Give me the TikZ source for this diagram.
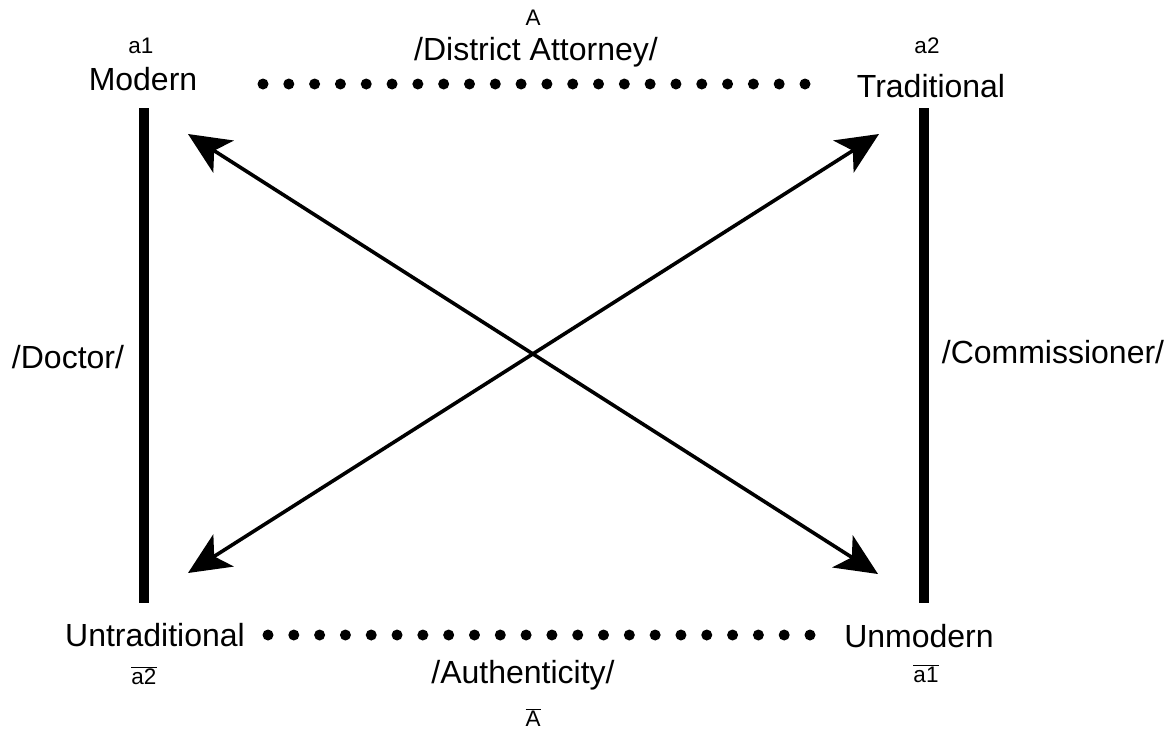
\documentclass[tikz,border=0pt]{standalone}
\usepackage{fontspec}
\setmainfont{Liberation Sans}
\usetikzlibrary{arrows.meta}
\begin{document}
\begin{tikzpicture}[x=1pt,y=-1pt,
  big/.style={font=\fontsize{32}{36}\selectfont, anchor=base, inner sep=0pt},
  small/.style={font=\fontsize{22.5}{26}\selectfont, anchor=base, inner sep=0pt},
  bar/.style={line width=9.5pt},
  dotline/.style={line width=11pt, line cap=round, dash pattern=on 0pt off 25.8095pt},
  cross/.style={line width=3.6pt, {Stealth[length=42pt,width=38pt,inset=11pt]}-{Stealth[length=42pt,width=38pt,inset=11pt]}}
]
\useasboundingbox (0,0) rectangle (1176,729);
% labels
\node[small] (a1) at (141,53) {a1};
\node[big] (modern) at (143,90) {Modern};
\node[small] (a2) at (927,53) {a2};
\node[big] (trad) at (931,97) {Traditional};
\node[small] (A) at (533,25) {A};
\node[big] (da) at (536,60) {/District Attorney/};
\node[big] (untrad) at (155,646) {Untraditional};
\node[small] (na2) at (144,684) {$\overline{\hbox{a2}}$};
\node[big] (unmod) at (919,647) {Unmodern};
\node[small] (na1) at (926,682) {$\overline{\hbox{a1}}$};
\node[big] (auth) at (523,683) {/Authenticity/};
\node[small] (nA) at (533,726) {$\overline{\hbox{A}}$};
\node[big] (doctor) at (68,368) {/Doctor/};
\node[big] (comm) at (1053,363) {/Commissioner/};
% coordinates
\coordinate (lt) at (144,108);
\coordinate (lb) at (144,603);
\coordinate (rt) at (924,108);
\coordinate (rb) at (924,603);
\coordinate (dts) at (263,84);
\coordinate (dte) at (805.5,84);
\coordinate (dbs) at (268,635);
\coordinate (dbe) at (810.5,635);
\coordinate (ul) at (188,134);
\coordinate (lr) at (878,574);
\coordinate (ur) at (879,134);
\coordinate (ll) at (188,573);
% bars
\draw[bar] (lt) -- (lb);
\draw[bar] (rt) -- (rb);
% dotted lines
\draw[dotline] (dts) -- (dte);
\draw[dotline] (dbs) -- (dbe);
% crossing arrows
\draw[cross] (ul) -- (lr);
\draw[cross] (ll) -- (ur);
\end{tikzpicture}
\end{document}
